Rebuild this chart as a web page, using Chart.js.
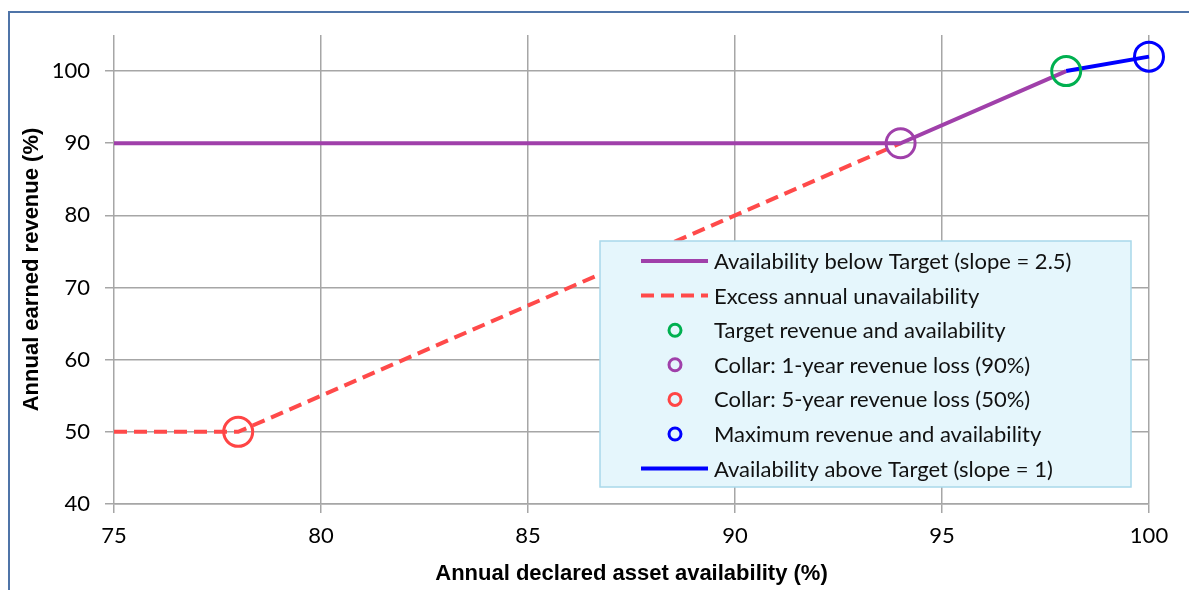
<!DOCTYPE html>
<html>
<head>
<meta charset="utf-8">
<script src="https://cdn.jsdelivr.net/npm/chart.js@4.4.1/dist/chart.umd.min.js"></script>
<style>
  body { margin: 0; background: #fff; }
  #wrap { position: relative; width: 1189px; height: 590px; }
</style>
</head>
<body>
<div id="wrap"><canvas id="revenueChart"></canvas></div>
<script>
// values
const belowX = [75, 94, 98];
const belowY = [90, 90, 100];
const excessX = [75, 78, 94];
const excessY = [50, 50, 90];
const aboveX = [98, 100];
const aboveY = [100, 102];

const markerNames = [
  "Target revenue and availability",
  "Collar: 1-year revenue loss (90%)",
  "Collar: 5-year revenue loss (50%)",
  "Maximum revenue and availability"
];
const markerX = [98, 94, 78, 100];
const markerY = [100, 90, 50, 102];
const markerColors = ["#00b050", "#a040aa", "#ff4545", "#0000ff"];

const xTicks = [75, 80, 85, 90, 95, 100];
const yTicks = [40, 50, 60, 70, 80, 90, 100];

const toPoints = (xs, ys) => xs.map((x, i) => ({ x: x, y: ys[i] }));

const tickFont = { family: "Lato", size: 22 };
const titleFont = { family: "'Liberation Sans', Arial", size: 22, weight: "bold" };

const datasets = [
  {
    label: "Availability below Target (slope = 2.5)",
    data: toPoints(belowX, belowY),
    showLine: true,
    borderColor: "#a040aa",
    borderWidth: 4,
    pointRadius: 0,
    order: 2,
  },
  {
    label: "Excess annual unavailability",
    data: toPoints(excessX, excessY),
    showLine: true,
    borderColor: "#ff4a4a",
    borderWidth: 4,
    borderDash: [13, 7],
    pointRadius: 0,
    order: 3,
  },
];
markerNames.forEach((name, i) => {
  datasets.push({
    label: name,
    data: [{ x: markerX[i], y: markerY[i] }],
    showLine: false,
    clip: false,
    pointStyle: "circle",
    pointRadius: 14.5,
    pointBorderWidth: 3,
    pointBackgroundColor: "rgba(0,0,0,0)",
    pointBorderColor: markerColors[i],
    borderColor: markerColors[i],
    order: 0,
  });
});
datasets.push({
  label: "Availability above Target (slope = 1)",
  data: toPoints(aboveX, aboveY),
  showLine: true,
  clip: false,
  borderColor: "#0000ff",
  borderWidth: 4,
  pointRadius: 0,
  order: 1,
});

// blue frame at left and top, like the pasted Excel chart
const framePlugin = {
  id: "frame",
  beforeDraw(chart) {
    const ctx = chart.ctx;
    ctx.save();
    ctx.strokeStyle = "#4f74a8";
    ctx.lineWidth = 2;
    ctx.beginPath();
    ctx.moveTo(9, chart.height);
    ctx.lineTo(9, 12);
    ctx.lineTo(chart.width, 12);
    ctx.stroke();
    ctx.restore();
  },
};

// legend box inside the plot
const boxLegend = {
  id: "boxLegend",
  afterDraw(chart) {
    const ctx = chart.ctx;
    const bx = 600, by = 241, bw = 531, bh = 246;
    const rowTop = 261, rowGap = 34.6;
    ctx.save();
    ctx.fillStyle = "#e5f6fc";
    ctx.fillRect(bx, by, bw, bh);
    ctx.strokeStyle = "#a8d8ea";
    ctx.lineWidth = 1.5;
    ctx.strokeRect(bx, by, bw, bh);
    ctx.font = "22px Lato";
    ctx.textBaseline = "middle";
    ctx.fillStyle = "#111";
    chart.data.datasets.forEach((ds, i) => {
      const y = rowTop + i * rowGap;
      if (ds.showLine) {
        ctx.strokeStyle = ds.borderColor;
        ctx.lineWidth = 4;
        ctx.setLineDash(ds.borderDash || []);
        ctx.beginPath();
        ctx.moveTo(641, y);
        ctx.lineTo(708, y);
        ctx.stroke();
        ctx.setLineDash([]);
      } else {
        ctx.strokeStyle = ds.pointBorderColor;
        ctx.lineWidth = 3;
        ctx.beginPath();
        ctx.arc(675, y, 6, 0, Math.PI * 2);
        ctx.stroke();
      }
      ctx.fillText(ds.label, 714, y + 1);
    });
    ctx.restore();
  },
};

new Chart(document.getElementById("revenueChart"), {
  type: "scatter",
  data: { datasets: datasets },
  plugins: [framePlugin, boxLegend],
  options: {
    responsive: true,
    maintainAspectRatio: false,
    animation: false,
    layout: { padding: { top: 35, right: 40, left: 0, bottom: 0 } },
    plugins: {
      legend: { display: false },
      tooltip: { enabled: false },
    },
    scales: {
      x: {
        type: "linear",
        min: 75,
        max: 100,
        afterBuildTicks: (s) => { s.ticks = xTicks.map((v) => ({ value: v })); },
        afterFit: (s) => { s.height = 86; },
        ticks: { font: tickFont, color: "#000", padding: 10, maxRotation: 0 },
        grid: { color: "#a6a6a6", lineWidth: 1.5, tickLength: 9 },
        border: { color: "#a6a6a6", width: 1.5 },
        title: {
          display: true,
          text: "Annual declared asset availability (%)",
          font: titleFont,
          color: "#000",
          padding: { top: 0, bottom: 3 },
        },
      },
      y: {
        type: "linear",
        min: 40,
        max: 105,
        afterBuildTicks: (s) => { s.ticks = yTicks.map((v) => ({ value: v })); },
        afterFit: (s) => { s.width = 114; },
        ticks: { font: tickFont, color: "#000", padding: 15 },
        grid: { color: "#a6a6a6", lineWidth: 1.5, tickLength: 9 },
        border: { display: false },
        title: {
          display: true,
          text: "Annual earned revenue (%)",
          font: titleFont,
          color: "#000",
          padding: { top: 19, bottom: 0 },
        },
      },
    },
  },
});
</script>
</body>
</html>
